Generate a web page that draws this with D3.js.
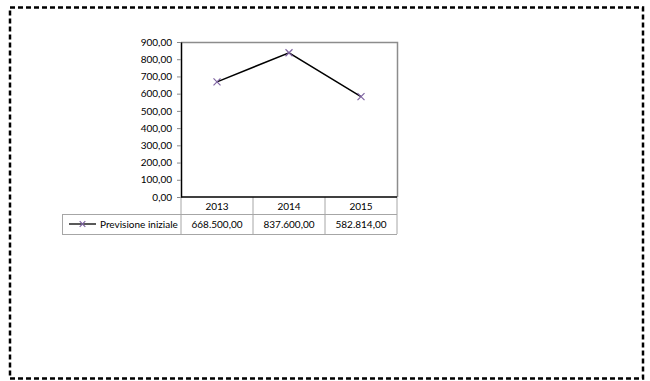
<!DOCTYPE html>
<html>
<head>
<meta charset="utf-8">
<script src="https://cdn.jsdelivr.net/npm/d3@7/dist/d3.min.js"></script>
<style>
  html, body { margin: 0; padding: 0; background: #fff; }
  svg { display: block; }
  text { font-family: Lato, "Open Sans", "Liberation Sans", sans-serif; font-size: 10px; fill: #000; }
</style>
</head>
<body>
<svg id="chart" width="650" height="381"></svg>
<script>
// Data
const years = ["2013", "2014", "2015"];
const seriesName = "Previsione iniziale";
const previsione = [668500, 837600, 582814];
const yTicks = [0, 100, 200, 300, 400, 500, 600, 700, 800, 900];

const svg = d3.select("#chart");

// Dashed frame around the whole object
svg.append("rect")
  .attr("x", 10).attr("y", 7.5)
  .attr("width", 633).attr("height", 371)
  .attr("fill", "none")
  .attr("stroke", "#000")
  .attr("stroke-width", 2.5)
  .attr("stroke-dasharray", "5,3");

// Plot area geometry
const plot = { left: 181, right: 397, top: 42, bottom: 197 };
const rowH1 = 17, rowH2 = 20;
const legendLeft = 62;

const x = d3.scaleBand().domain(years).range([plot.left, plot.right]).padding(0);
const y = d3.scaleLinear().domain([0, 900]).range([plot.bottom, plot.top]);

// Values are shown in thousands on the axis
const fmtAxis = v => d3.format(",.2f")(v).replace(/,/g, "X").replace(/\./g, ",").replace(/X/g, ".");
const fmtVal = v => d3.format(",.2f")(v).replace(/,/g, "X").replace(/\./g, ",").replace(/X/g, ".");

// Top and right plot border (grey)
svg.append("path")
  .attr("d", `M${plot.left},${plot.top + 0.5}H${plot.right + 0.5}V${plot.bottom}`)
  .attr("fill", "none").attr("stroke", "#8c8c8c").attr("stroke-width", 1.5);

// Y axis
const yAxis = d3.axisLeft(y).tickValues(yTicks).tickFormat(fmtAxis).tickSize(4).tickSizeOuter(0);
const gy = svg.append("g").attr("transform", `translate(${plot.left},0)`).call(yAxis);
gy.select(".domain").attr("stroke", "#000").attr("stroke-width", 1.5);
gy.selectAll(".tick line").attr("stroke", "#888");
gy.selectAll(".tick text").attr("x", -9).style("font-size", "10px").attr("font-family", null);

// Data table below the axis
const tbl = svg.append("g");
const tableBottom = plot.bottom + rowH1 + rowH2;
const grey = "#a6a6a6";
// vertical separators
[plot.left, ...years.map(d => x(d) + x.bandwidth())].forEach(vx => {
  tbl.append("line").attr("x1", vx).attr("x2", vx)
    .attr("y1", plot.bottom).attr("y2", tableBottom)
    .attr("stroke", grey).attr("stroke-width", 1);
});
years.slice(0, -1).forEach(d => {}); // internal separators included above
// horizontal lines
tbl.append("line").attr("x1", plot.left).attr("x2", plot.right)
  .attr("y1", plot.bottom + rowH1 + 0.5).attr("y2", plot.bottom + rowH1 + 0.5)
  .attr("stroke", grey);
tbl.append("line").attr("x1", legendLeft).attr("x2", plot.left)
  .attr("y1", plot.bottom + rowH1 + 0.5).attr("y2", plot.bottom + rowH1 + 0.5)
  .attr("stroke", grey);
tbl.append("line").attr("x1", legendLeft).attr("x2", plot.right)
  .attr("y1", tableBottom + 0.5).attr("y2", tableBottom + 0.5)
  .attr("stroke", grey);
tbl.append("line").attr("x1", legendLeft + 0.5).attr("x2", legendLeft + 0.5)
  .attr("y1", plot.bottom + rowH1).attr("y2", tableBottom)
  .attr("stroke", grey);

// Category labels
tbl.selectAll("text.year").data(years).enter().append("text")
  .attr("class", "year")
  .attr("x", d => x(d) + x.bandwidth() / 2)
  .attr("y", plot.bottom + rowH1 / 2 + 4)
  .attr("text-anchor", "middle")
  .text(d => d);

// Values row
tbl.selectAll("text.val").data(previsione).enter().append("text")
  .attr("class", "val")
  .attr("x", (d, i) => x(years[i]) + x.bandwidth() / 2)
  .attr("y", plot.bottom + rowH1 + rowH2 / 2 + 4)
  .attr("text-anchor", "middle")
  .text(d => fmtVal(d));

// Legend key in the table
const markerColor = "#7f64a2";
const ly = plot.bottom + rowH1 + rowH2 / 2;
tbl.append("line").attr("x1", 69).attr("x2", 96).attr("y1", ly).attr("y2", ly)
  .attr("stroke", "#222").attr("stroke-width", 1.5);
const cross = (g, cx, cy, r) => g.append("path")
  .attr("d", `M${cx - r},${cy - r}L${cx + r},${cy + r}M${cx - r},${cy + r}L${cx + r},${cy - r}`)
  .attr("stroke", markerColor).attr("stroke-width", 1.2).attr("fill", "none");
cross(tbl, 82.5, ly, 2.8);
tbl.append("text").attr("x", 100).attr("y", ly + 4).text(seriesName);

// X axis line
svg.append("line").attr("x1", plot.left).attr("x2", plot.right)
  .attr("y1", plot.bottom).attr("y2", plot.bottom)
  .attr("stroke", "#000").attr("stroke-width", 1.5);

// Series line (axis in thousands)
const pts = previsione.map((v, i) => [x(years[i]) + x.bandwidth() / 2, y(v / 1000)]);
svg.append("path")
  .attr("d", d3.line()(pts))
  .attr("fill", "none").attr("stroke", "#000").attr("stroke-width", 1.5);
pts.forEach(p => cross(svg, p[0], p[1], 3.5));
</script>
</body>
</html>
